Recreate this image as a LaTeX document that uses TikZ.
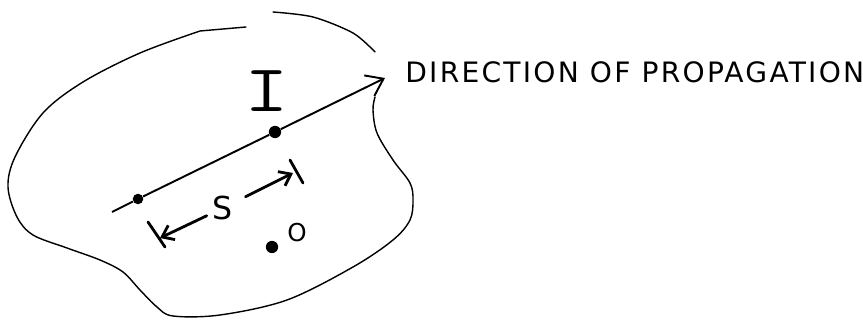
\documentclass[tikz,border=0pt]{standalone}
\usepackage{fontspec}
\usetikzlibrary{arrows.meta}
\newfontfamily\handfont[LetterSpace=8]{DejaVu Sans}

\begin{document}
\begin{tikzpicture}[x=0.02cm, y=-0.02cm, >={Straight Barb[length=9pt, width=13pt]},
  bullet/.style={circle, fill, inner sep=0pt, minimum size=#1},
  dimline/.style={line width=1.6pt, line cap=round},
  outline/.style={line width=0.8pt, line cap=round}]
  \useasboundingbox (0,0) rectangle (863,320);
  % --- region outline ---
  \draw[outline] (375,97) plot[smooth, tension=0.55] coordinates {(375,97) (373,110)
    (377,133) (393,160) (410,183) (413,200) (410,220) (393,240) (353,267) (287,300)
    (220,315) (173,316) (157,307) (140,290) (123,272) (100,260) (67,248) (33,235)
    (17,217) (8,187) (15,157) (43,113) (83,82) (140,53) (200,31)} -- (246,27);
  \draw[outline] plot[smooth] coordinates {(273,12) (313,17) (353,33) (375,52)};
  % --- line of propagation ---
  \coordinate (tail) at (112,212);
  \node[bullet=6pt] (p1) at (138,199) {};
  \node[bullet=7pt] (p2) at (275,132) {};
  \node[right, inner sep=0pt, font=\handfont\fontsize{16}{18}\selectfont] (dir) at (405,72)
    {DIRECTION OF PROPAGATION};
  \coordinate (tip) at (385,78);
  \draw[line width=1.1pt] (tail) -- (p1) -- (p2);
  \draw[->, line width=1.1pt] (p2) -- (tip);
  \node[font=\ttfamily\fontsize{38}{40}\selectfont, xscale=1.3] (ilabel) at (267,91) {I};
  % --- separation s ---
  \node[font=\handfont\fontsize{18}{20}\selectfont] (s) at (223,208) {S};
  \coordinate (sL) at (160,238);
  \coordinate (sR) at (293,173);
  \draw[dimline] ([shift={(-12,-16)}]sL) -- ([shift={(5,9)}]sL);
  \draw[dimline] ([shift={(-3,-13)}]sR) -- ([shift={(10,10)}]sR);
  \draw[dimline, ->, >={Straight Barb[length=6pt, width=9pt]}] (s) -- (sL);
  \draw[dimline, ->, >={Straight Barb[length=6pt, width=9pt]}, shorten <=4pt] (s) -- (sR);
  % --- point O ---
  \node[bullet=7pt] (o) at (272,247) {};
  \node[font=\handfont\fontsize{14}{16}\selectfont] (olabel) at (297,233) {O};
\end{tikzpicture}
\end{document}
